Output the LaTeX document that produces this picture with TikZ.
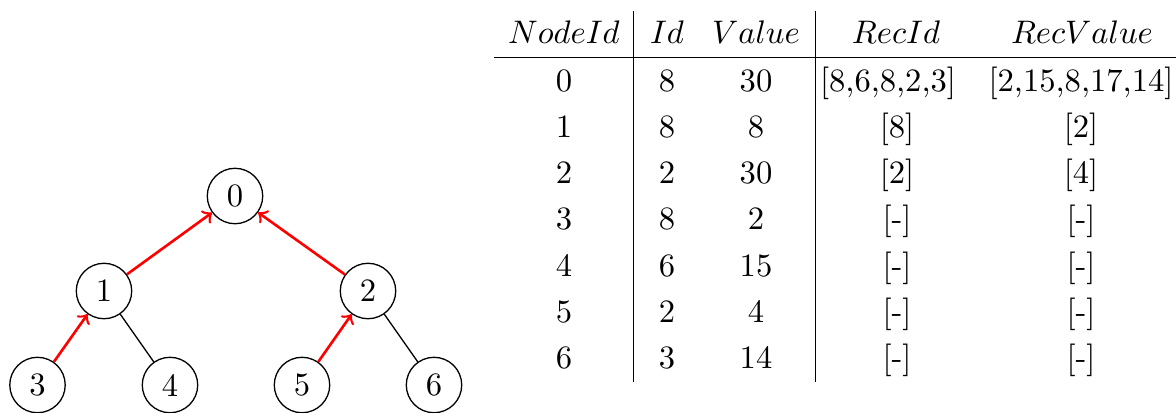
\documentclass[tikz,border=0pt]{standalone}
\begin{document}
\begin{tikzpicture}[x=0.3067pt,y=-0.3067pt,
  treenode/.style={circle,draw,line width=0.4pt,minimum size=17pt,inner sep=0pt,font=\normalsize},
  recarrow/.style={->,red,line width=0.8pt},
  treeedge/.style={line width=0.4pt},
  cell/.style={anchor=base,inner sep=0pt},
  tablerule/.style={line width=0.4pt}]
\useasboundingbox (0,0) rectangle (1176,412);

% tree
\node[treenode] (n0) at (235,196) {0};
\node[treenode] (n1) at (104,291) {1};
\node[treenode] (n2) at (368,291) {2};
\node[treenode] (n3) at (37.5,385) {3};
\node[treenode] (n4) at (170,385) {4};
\node[treenode] (n5) at (302,385) {5};
\node[treenode] (n6) at (434,385) {6};

\draw[recarrow] (n1) -- (n0);
\draw[recarrow] (n2) -- (n0);
\draw[recarrow] (n3) -- (n1);
\draw[treeedge] (n1) -- (n4);
\draw[recarrow] (n5) -- (n2);
\draw[treeedge] (n2) -- (n6);

% table header
\node[cell] (hNode) at (564,43.3) {$NodeId$};
\node[cell] (hId) at (667,43.3) {$Id$};
\node[cell] (hVal) at (756,43.3) {$Value$};
\node[cell] (hRecId) at (896,43.3) {$RecId$};
\node[cell] (hRecVal) at (1082,43.3) {$RecValue$};

% table rules
\draw[tablerule] (494,57.5) -- (1176,57.5);
\draw[tablerule] (633.5,11) -- (633.5,382);
\draw[tablerule] (815.5,11) -- (815.5,382);

% table body
\node[cell] (r0a) at (564,91) {0};
\node[cell] (r0b) at (667,91) {8};
\node[cell] (r0c) at (756,91) {30};
\node[cell] (r0d) at (888,91) {[8,6,8,2,3]};
\node[cell] (r0e) at (1081,91) {[2,15,8,17,14]};

\node[cell] (r1a) at (564,137.3) {1};
\node[cell] (r1b) at (667,137.3) {8};
\node[cell] (r1c) at (756,137.3) {8};
\node[cell] (r1d) at (897,137.3) {[8]};
\node[cell] (r1e) at (1081,137.3) {[2]};

\node[cell] (r2a) at (564,183.6) {2};
\node[cell] (r2b) at (667,183.6) {2};
\node[cell] (r2c) at (756,183.6) {30};
\node[cell] (r2d) at (897,183.6) {[2]};
\node[cell] (r2e) at (1081,183.6) {[4]};

\node[cell] (r3a) at (564,229.9) {3};
\node[cell] (r3b) at (667,229.9) {8};
\node[cell] (r3c) at (756,229.9) {2};
\node[cell] (r3d) at (897,229.9) {[-]};
\node[cell] (r3e) at (1081,229.9) {[-]};

\node[cell] (r4a) at (564,276.2) {4};
\node[cell] (r4b) at (667,276.2) {6};
\node[cell] (r4c) at (756,276.2) {15};
\node[cell] (r4d) at (897,276.2) {[-]};
\node[cell] (r4e) at (1081,276.2) {[-]};

\node[cell] (r5a) at (564,322.5) {5};
\node[cell] (r5b) at (667,322.5) {2};
\node[cell] (r5c) at (756,322.5) {4};
\node[cell] (r5d) at (897,322.5) {[-]};
\node[cell] (r5e) at (1081,322.5) {[-]};

\node[cell] (r6a) at (564,368.8) {6};
\node[cell] (r6b) at (667,368.8) {3};
\node[cell] (r6c) at (756,368.8) {14};
\node[cell] (r6d) at (897,368.8) {[-]};
\node[cell] (r6e) at (1081,368.8) {[-]};
\end{tikzpicture}
\end{document}
